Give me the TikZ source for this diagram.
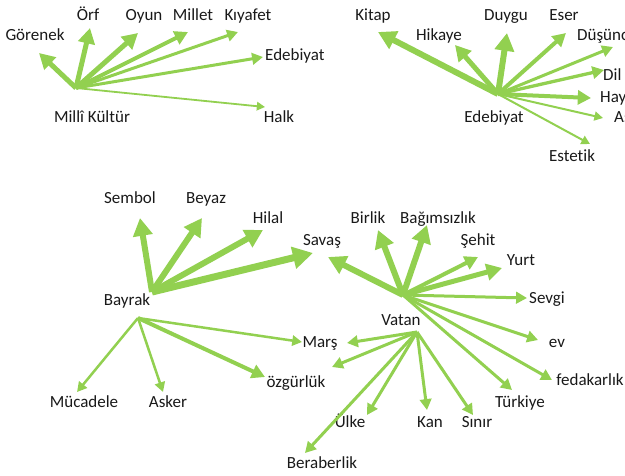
\documentclass[tikz,border=0pt]{standalone}
\usepackage{fontspec}
\setmainfont[RawFeature={-liga;-dlig}]{Carlito}
\usetikzlibrary{arrows.meta}
\definecolor{agreen}{HTML}{92D050}
\tikzset{
  lbl/.style={font=\fontsize{17}{20}\selectfont, inner sep=0pt, anchor=base, text=black!90},
  lblw/.style={lbl, anchor=base west},
  arr/.style={draw=agreen, line width=#1, line cap=butt,
    -{Triangle[length=4pt 2.3, width=4pt 2.5]}},
  arr/.default=3pt
}
\begin{document}
\begin{tikzpicture}[x=1pt,y=-1pt]
\useasboundingbox (0,0) rectangle (625,475);
\clip (0,0) rectangle (625,475);

% ---------- Group 1: Milli Kultur ----------
\coordinate (h1) at (76,88);
\node[lbl] (mk) at (92,122.5) {Millî Kültür};
\node[lbl] (gor) at (35,40.5) {Görenek};
\node[lbl] (orf) at (88,20.5) {Örf};
\node[lbl] (oyun) at (144,20.5) {Oyun};
\node[lbl] (millet) at (193,20.5) {Millet};
\node[lbl] (kiyafet) at (248,20.5) {Kıyafet};
\node[lblw] (edeb1) at (265,60.5) {Edebiyat};
\node[lbl] (halk) at (279,122.5) {Halk};
\coordinate (t-gor) at (39,53);
\coordinate (t-orf) at (90,28);
\coordinate (t-oyun) at (138,33);
\coordinate (t-millet) at (188,32);
\coordinate (t-kiyafet) at (238,32);
\coordinate (t-edeb1) at (263,57);
\coordinate (t-halk) at (265,107);
\draw[arr=5pt] (h1) -- (t-gor);
\draw[arr=5pt] (h1) -- (t-orf);
\draw[arr=5pt] (h1) -- (t-oyun);
\draw[arr=4pt] (h1) -- (t-millet);
\draw[arr=3pt] (h1) -- (t-kiyafet);
\draw[arr=3pt] (h1) -- (t-edeb1);
\draw[arr=1.8pt] (h1) -- (t-halk);

% ---------- Group 2: Edebiyat ----------
\coordinate (h2) at (498,94);
\node[lbl] (edeb2) at (494,122.5) {Edebiyat};
\node[lbl] (kitap) at (373,20.5) {Kitap};
\node[lbl] (hikaye) at (439,40.5) {Hikaye};
\node[lbl] (duygu) at (506,20.5) {Duygu};
\node[lbl] (eser) at (564,20.5) {Eser};
\node[lblw] (dusunce) at (577,40.5) {Düşünce};
\node[lblw] (dil) at (603,80.5) {Dil};
\node[lblw] (hayat) at (600,102.5) {Hayat};
\node[lblw] (ask) at (614,122.5) {Aşk};
\node[lbl] (estetik) at (572,161.5) {Estetik};
\coordinate (t-kitap) at (378,32);
\coordinate (t-hikaye) at (455,45);
\coordinate (t-duygu) at (507,33);
\coordinate (t-eser) at (566,33);
\coordinate (t-dusunce) at (613,47);
\coordinate (t-dil) at (604,70);
\coordinate (t-hayat) at (591,98);
\coordinate (t-ask) at (603,118);
\coordinate (t-estetik) at (590,144);
\draw[arr=6pt] (h2) -- (t-kitap);
\draw[arr=5pt] (h2) -- (t-hikaye);
\draw[arr=6pt] (h2) -- (t-duygu);
\draw[arr=4pt] (h2) -- (t-eser);
\draw[arr=3pt] (h2) -- (t-dusunce);
\draw[arr=3.3pt] (h2) -- (t-dil);
\draw[arr=4pt] (h2) -- (t-hayat);
\draw[arr=2pt] (h2) -- (t-ask);
\draw[arr=2pt] (h2) -- (t-estetik);

% ---------- Group 3: Bayrak ----------
\coordinate (b1) at (152,292);
\coordinate (b2) at (138,318);
\node[lbl] (bayrak) at (127,305.5) {Bayrak};
\node[lbl] (sembol) at (130,203.5) {Sembol};
\node[lbl] (beyaz) at (206,203.5) {Beyaz};
\node[lbl] (hilal) at (268,223.5) {Hilal};
\node[lbl] (savas) at (322,245.5) {Savaş};
\node[lbl] (mucadele) at (84,407.5) {Mücadele};
\node[lbl] (asker) at (168,407.5) {Asker};
\node[lbl] (mars) at (320,347.5) {Marş};
\node[lbl] (ozgurluk) at (296,387.5) {özgürlük};
\coordinate (t-sembol) at (140,218);
\coordinate (t-beyaz) at (202,218);
\coordinate (t-hilal) at (263,230);
\coordinate (t-savas1) at (313,253);
\coordinate (t-mucadele) at (77,392);
\coordinate (t-asker) at (163,392);
\coordinate (t-mars1) at (302,342);
\coordinate (t-ozgurluk1) at (265,377);
\draw[arr=6pt] (b1) -- (t-sembol);
\draw[arr=6pt] (b1) -- (t-beyaz);
\draw[arr=6pt] (b1) -- (t-hilal);
\draw[arr=7pt] (b1) -- (t-savas1);
\draw[arr=2.5pt] (b2) -- (t-mucadele);
\draw[arr=2.5pt] (b2) -- (t-asker);
\draw[arr=2.5pt] (b2) -- (t-mars1);
\draw[arr=4pt] (b2) -- (t-ozgurluk1);

% ---------- Group 4: Vatan ----------
\coordinate (v1) at (403,295);
\coordinate (v2) at (417,332);
\node[lbl] (vatan) at (401,325.5) {Vatan};
\node[lbl] (birlik) at (368,223.5) {Birlik};
\node[lbl] (bagimsizlik) at (438,223.5) {Bağımsızlık};
\node[lbl] (sehit) at (478,245.5) {Şehit};
\node[lbl] (yurt) at (521,265.5) {Yurt};
\node[lbl] (sevgi) at (547,303.5) {Sevgi};
\node[lbl] (ev) at (557,347.5) {ev};
\node[lbl] (fedakarlik) at (590,385.5) {fedakarlık};
\node[lbl] (turkiye) at (520,407.5) {Türkiye};
\node[lbl] (ulke) at (350,427.5) {Ülke};
\node[lbl] (kan) at (430,427.5) {Kan};
\node[lbl] (sinir) at (477,427.5) {Sınır};
\node[lbl] (beraberlik) at (322,468.5) {Beraberlik};
\coordinate (t-savas2) at (328,257);
\coordinate (t-birlik) at (378,230);
\coordinate (t-bagimsizlik) at (427,225);
\coordinate (t-sehit) at (478,257);
\coordinate (t-yurt) at (502,268);
\coordinate (t-sevgi) at (527,298);
\coordinate (t-ev) at (538,340);
\coordinate (t-fedakarlik) at (552,380);
\coordinate (t-turkiye) at (512,390);
\coordinate (t-mars2) at (347,343);
\coordinate (t-ozgurluk2) at (332,367);
\coordinate (t-ulke) at (367,415);
\coordinate (t-kan) at (427,410);
\coordinate (t-sinir) at (473,415);
\coordinate (t-beraberlik) at (305,453);
\draw[arr=6pt] (v1) -- (t-savas2);
\draw[arr=6pt] (v1) -- (t-birlik);
\draw[arr=6pt] (v1) -- (t-bagimsizlik);
\draw[arr=4pt] (v1) -- (t-sehit);
\draw[arr=5pt] (v1) -- (t-yurt);
\draw[arr=3pt] (v1) -- (t-sevgi);
\draw[arr=3pt] (v1) -- (t-ev);
\draw[arr=3pt] (v1) -- (t-fedakarlik);
\draw[arr=3pt] (v1) -- (t-turkiye);
\draw[arr=3pt] (v2) -- (t-mars2);
\draw[arr=3pt] (v2) -- (t-ozgurluk2);
\draw[arr=3pt] (v2) -- (t-ulke);
\draw[arr=3pt] (v2) -- (t-kan);
\draw[arr=3pt] (v2) -- (t-sinir);
\draw[arr=3pt] (v2) -- (t-beraberlik);
\end{tikzpicture}
\end{document}
